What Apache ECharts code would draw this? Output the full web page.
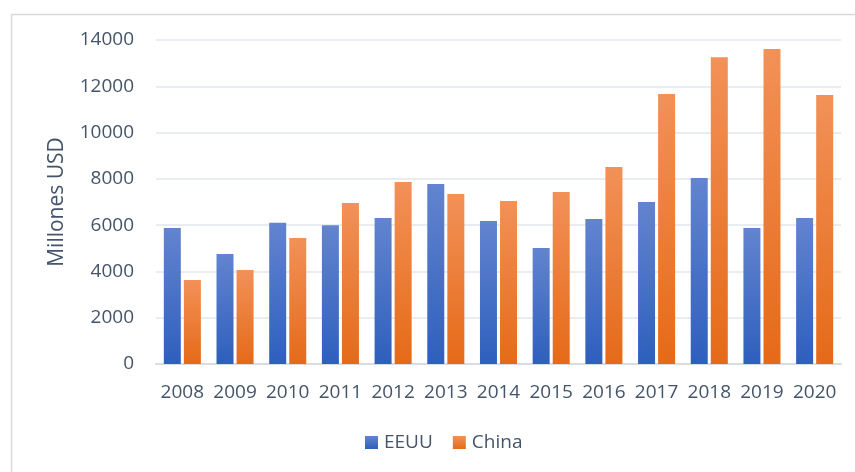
<!DOCTYPE html>
<html>
<head>
<meta charset="utf-8">
<script src="https://cdn.jsdelivr.net/npm/echarts@6/dist/echarts.min.js"></script>
<style>
  html, body { margin: 0; padding: 0; background: #fff; }
  #chart { width: 855px; height: 472px; }
</style>
</head>
<body>
<div id="chart"></div>
<script>
// datos
var years = ['2008', '2009', '2010', '2011', '2012', '2013', '2014', '2015', '2016', '2017', '2018', '2019', '2020'];
var eeuu = [5880, 4750, 6100, 6000, 6310, 7780, 6180, 5010, 6270, 7000, 8040, 5880, 6310];
var china = [3630, 4060, 5440, 6960, 7860, 7350, 7040, 7430, 8510, 11670, 13260, 13610, 11620];

var textColor = '#44546a';
var fontFam = '"Open Sans", "Noto Sans", sans-serif';

function grad(top, bottom) {
    return new echarts.graphic.LinearGradient(0, 0, 0, 1, [
        { offset: 0, color: top },
        { offset: 1, color: bottom }
    ]);
}

var myChart = echarts.init(document.getElementById('chart'));

var options = {
    animation: false,
    // marco gris alrededor del grafico
    graphic: [{
        type: 'rect',
        left: 9,
        top: 12,
        shape: { width: 900, height: 500 },
        style: { fill: 'none', stroke: '#d9d9d9', lineWidth: 1.5 },
        silent: true
    }],
    grid: {
        left: 156,
        right: 14,
        top: 40,
        bottom: 108
    },
    legend: {
        top: 428,
        left: 360,
        icon: 'rect',
        itemWidth: 13,
        itemHeight: 13,
        itemGap: 20,
        textStyle: { color: textColor, fontSize: 19, fontFamily: fontFam, padding: [0, 0, 0, 1] },
        data: ['EEUU', 'China']
    },
    xAxis: {
        type: 'category',
        data: years,
        axisTick: { show: false },
        axisLine: { lineStyle: { color: '#d9dde3', width: 2 } },
        axisLabel: { color: textColor, fontSize: 19, fontFamily: fontFam, margin: 19, interval: 0 }
    },
    yAxis: {
        type: 'value',
        name: 'Millones USD',
        nameLocation: 'middle',
        nameGap: 88,
        nameTextStyle: { color: textColor, fontSize: 21, fontFamily: fontFam },
        min: 0,
        max: 14000,
        interval: 2000,
        axisLine: { show: false },
        axisTick: { show: false },
        splitLine: { lineStyle: { color: '#e2e6eb', width: 1.5 } },
        axisLabel: {
            color: textColor, fontSize: 19, fontFamily: fontFam, margin: 22,
            formatter: function (v) { return String(v); }
        }
    },
    series: [
        {
            name: 'EEUU',
            type: 'bar',
            data: eeuu,
            barWidth: 17,
            barGap: '18%',
            itemStyle: { color: grad('#6384cf', '#2e5fbd') }
        },
        {
            name: 'China',
            type: 'bar',
            data: china,
            barWidth: 17,
            itemStyle: { color: grad('#f29158', '#e56a18') }
        }
    ]
};

myChart.setOption(options);
</script>
</body>
</html>
